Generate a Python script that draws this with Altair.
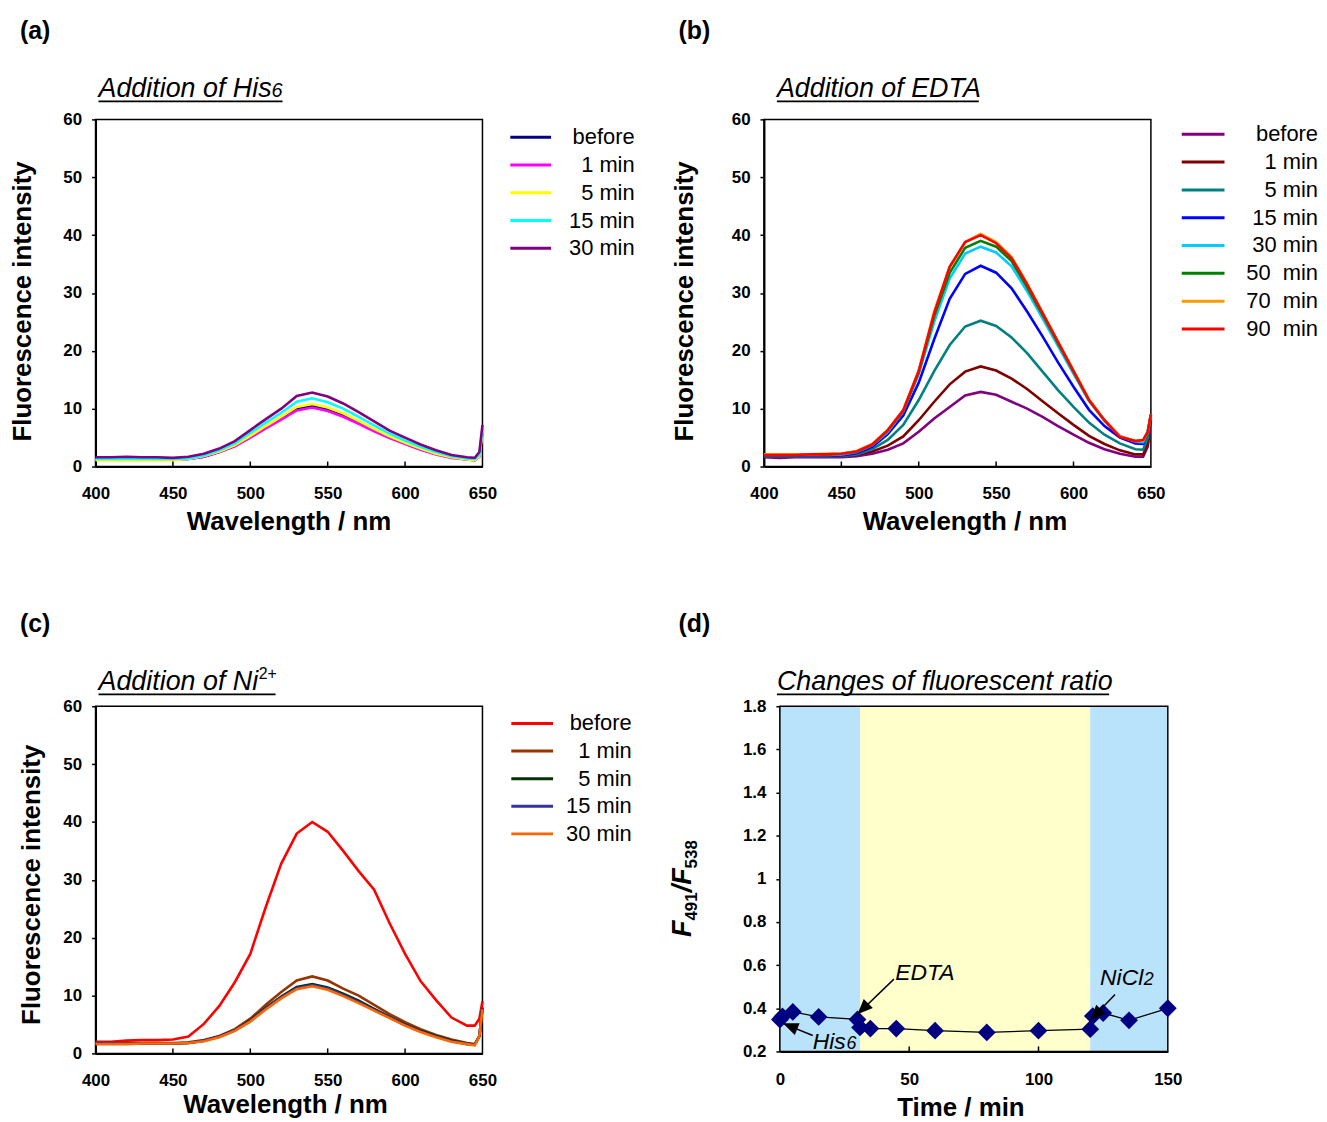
import altair as alt
import pandas as pd

FONT = "Liberation Sans"

# ---------------- data ----------------
wl = [400, 410, 420, 430, 440, 450, 460, 470, 480, 490, 500, 510, 520, 530, 540,
      550, 560, 570, 580, 590, 600, 610, 620, 630, 640, 645, 648, 650]

# (a) Addition of His6
a_names = ["before", "1 min", "5 min", "15 min", "30 min"]
a_colors = ["#000080", "#FF00FF", "#FFFF00", "#00FFFF", "#800080"]
a_before = [1.2, 1.2, 1.3, 1.2, 1.2, 1.2, 1.3, 1.7, 2.5, 3.6, 5.1, 6.8, 8.4, 10.0, 10.5, 9.9, 8.9, 7.7, 6.3, 5.0, 4.0, 3.0, 2.2, 1.6, 1.2, 1.1, 1.8, 6.0]
a_1min = [1.2, 1.2, 1.2, 1.2, 1.2, 1.2, 1.3, 1.7, 2.5, 3.5, 5.0, 6.6, 8.1, 9.7, 10.2, 9.6, 8.6, 7.4, 6.1, 4.9, 3.9, 2.9, 2.1, 1.5, 1.2, 1.1, 1.7, 6.0]
a_5min = [1.1, 1.1, 1.1, 1.1, 1.1, 1.1, 1.3, 1.8, 2.6, 3.7, 5.3, 7.0, 8.6, 10.3, 10.8, 10.2, 9.2, 7.9, 6.5, 5.2, 4.1, 3.1, 2.2, 1.6, 1.2, 1.1, 1.8, 6.0]
a_15min = [1.3, 1.3, 1.3, 1.3, 1.3, 1.3, 1.4, 1.9, 2.8, 4.0, 5.8, 7.6, 9.3, 11.2, 11.8, 11.1, 10.0, 8.6, 7.1, 5.7, 4.5, 3.4, 2.5, 1.8, 1.4, 1.3, 2.0, 6.5]
a_30min = [1.6, 1.6, 1.7, 1.6, 1.6, 1.5, 1.7, 2.2, 3.1, 4.4, 6.3, 8.2, 10.0, 12.2, 12.8, 12.1, 10.9, 9.4, 7.8, 6.2, 5.0, 3.8, 2.8, 2.0, 1.6, 1.5, 2.5, 7.2]

# (b) Addition of EDTA
b_names = ["before", "1 min", "5 min", "15 min", "30 min",
           "50\u00a0 min", "70\u00a0 min", "90\u00a0 min"]
b_colors = ["#800080", "#800000", "#008080", "#0000FF", "#00CCFF", "#008000", "#FF9900", "#FF0000"]
b_before = [1.6, 1.5, 1.6, 1.6, 1.6, 1.6, 1.8, 2.2, 2.9, 4.0, 6.0, 8.3, 10.3, 12.3, 12.9, 12.4, 11.2, 10.0, 8.6, 7.0, 5.5, 4.1, 3.0, 2.2, 1.7, 1.7, 3.5, 8.0]
b_1min = [1.8, 1.8, 1.8, 1.8, 1.8, 1.8, 2.0, 2.6, 3.6, 5.2, 8.0, 11.2, 14.2, 16.4, 17.3, 16.6, 15.2, 13.4, 11.3, 9.2, 7.2, 5.3, 3.9, 2.8, 2.1, 2.1, 4.0, 8.5]
b_5min = [1.8, 1.8, 1.8, 1.8, 1.8, 1.8, 2.1, 3.0, 4.6, 7.2, 11.5, 16.5, 21.0, 24.2, 25.2, 24.3, 22.3, 19.6, 16.4, 13.2, 10.3, 7.6, 5.5, 4.0, 3.0, 2.9, 5.0, 9.0]
b_15min = [1.9, 1.9, 1.9, 1.9, 1.9, 1.9, 2.3, 3.4, 5.6, 8.8, 14.5, 22.0, 29.0, 33.3, 34.7, 33.5, 30.8, 26.8, 22.5, 18.0, 13.8, 9.8, 7.0, 5.0, 4.0, 3.9, 6.0, 9.0]
b_30min = [2.0, 2.0, 2.0, 2.0, 2.0, 2.1, 2.5, 3.7, 6.0, 9.5, 16.0, 25.0, 32.5, 36.8, 38.0, 37.0, 34.6, 30.3, 25.6, 20.8, 16.0, 11.3, 7.9, 5.3, 4.3, 4.2, 6.0, 9.0]
b_50min = [2.0, 2.0, 2.0, 2.1, 2.1, 2.2, 2.6, 3.8, 6.2, 9.6, 16.3, 26.0, 33.5, 37.8, 39.0, 38.0, 35.5, 31.0, 26.2, 21.3, 16.4, 11.5, 8.0, 5.2, 4.4, 4.5, 6.0, 9.0]
b_70min = [2.1, 2.1, 2.1, 2.1, 2.2, 2.2, 2.7, 3.9, 6.3, 9.8, 16.6, 26.8, 34.5, 38.8, 40.2, 38.8, 36.2, 31.6, 26.6, 21.6, 16.6, 11.6, 8.0, 5.2, 4.4, 4.5, 6.0, 9.0]
b_90min = [2.0, 2.0, 2.0, 2.1, 2.1, 2.2, 2.6, 3.8, 6.3, 9.7, 16.5, 26.5, 34.5, 38.8, 40.0, 38.6, 36.0, 31.5, 26.5, 21.5, 16.5, 11.5, 8.0, 5.1, 4.4, 4.6, 6.0, 9.0]

# (c) Addition of Ni2+
c_names = ["before", "1 min", "5 min", "15 min", "30 min"]
c_colors = ["#FF0000", "#993300", "#003300", "#333399", "#FF6600"]
c_before = [2.0, 2.0, 2.2, 2.3, 2.3, 2.4, 2.9, 5.1, 8.2, 12.3, 17.2, 25.3, 32.8, 38.0, 40.0, 38.3, 35.0, 31.5, 28.3, 22.5, 17.2, 12.5, 9.2, 6.2, 4.8, 4.8, 6.0, 9.0]
c_1min = [1.8, 1.8, 1.8, 1.8, 1.8, 1.8, 1.9, 2.3, 3.0, 4.2, 6.0, 8.4, 10.6, 12.6, 13.3, 12.6, 11.2, 10.0, 8.4, 6.8, 5.4, 4.2, 3.2, 2.4, 1.8, 1.6, 3.0, 8.0]
c_5min = [1.7, 1.7, 1.7, 1.7, 1.7, 1.7, 1.8, 2.2, 2.9, 4.0, 5.7, 7.9, 9.8, 11.5, 12.0, 11.4, 10.3, 9.1, 7.7, 6.3, 5.0, 3.9, 3.0, 2.2, 1.7, 1.5, 3.0, 7.8]
c_15min = [1.8, 1.8, 1.7, 1.7, 1.7, 1.7, 1.8, 2.2, 2.9, 4.0, 5.6, 7.8, 9.7, 11.3, 11.8, 11.2, 10.1, 8.9, 7.5, 6.2, 4.9, 3.8, 2.9, 2.1, 1.6, 1.5, 3.0, 7.8]
c_30min = [1.6, 1.6, 1.6, 1.7, 1.7, 1.7, 1.8, 2.1, 2.8, 3.9, 5.5, 7.6, 9.5, 11.1, 11.6, 11.0, 9.9, 8.7, 7.4, 6.1, 4.8, 3.7, 2.8, 2.0, 1.6, 1.4, 3.0, 7.6]

# (d) Changes of fluorescent ratio
d_time = [0, 1, 5, 15, 30, 31, 35, 45, 60, 80, 100, 120, 121, 125, 135, 150]
d_ratio = [0.348, 0.362, 0.383, 0.360, 0.348, 0.311, 0.306, 0.306, 0.296, 0.288,
           0.296, 0.303, 0.364, 0.378, 0.344, 0.400]
band_start = [0, 31, 120]
band_end = [31, 120, 150]
band_colors = ["#B9E3FB", "#FFFFCC", "#B9E3FB"]

# annotation arrows (data units of panel d)
arrow_x0 = [44.1, 129.6, 12.7]
arrow_y0 = [0.535, 0.464, 0.274]
arrow_x1 = [30.0, 120.0, 1.2]
arrow_y1 = [0.372, 0.344, 0.330]
arrow_angle = [225, 224, 292]
ann_x = [44.6, 123.8, 12.7]
ann_y = [0.529, 0.506, 0.209]
ann_text = ["EDTA", "NiCl", "His"]
ann_sub = ["", "2", "6"]

spec_x_ticks = [400, 450, 500, 550, 600, 650]
spec_inner_ticks = [450, 500, 550, 600]
spec_y_ticks = [0, 10, 20, 30, 40, 50, 60]
d_x_ticks = [0, 50, 100, 150]
d_inner_ticks = [50, 100]
d_y_ticks = [0.2, 0.4, 0.6, 0.8, 1.0, 1.2, 1.4, 1.6, 1.8]

W, H = 389, 349
SHIFT = 16            # panel (d) plot starts 16 px right of its column
DW, DH = 390 + SHIFT, 347


# ---------------- helpers ----------------
def txt(s, x, y, size, weight="normal", style="normal", align="left",
        baseline="alphabetic", angle=0):
    kw = dict(fontSize=size, fontWeight=weight, fontStyle=style, align=align,
              baseline=baseline, color="black", font=FONT)
    if angle:
        kw["angle"] = angle
    return alt.Chart(pd.DataFrame({"t": [s]})).mark_text(**kw).encode(
        x=alt.value(x), y=alt.value(y), text="t:N")


def hline(x0, x1, y, w=1.8):
    return alt.Chart(pd.DataFrame({"z": [0]})).mark_rule(
        color="black", strokeWidth=w).encode(
        x=alt.value(x0), x2=alt.value(x1), y=alt.value(y))


def axis_common():
    return dict(labelFont=FONT, labelFontSize=17, labelFontWeight="bold",
                labelColor="black", titleFont=FONT, titleFontSize=26,
                titleFontWeight="bold", titleColor="black", domainColor="black",
                domainWidth=2, grid=False, titleBaseline="alphabetic",
                titleAlign="center", labelFlush=False)


def spectrum_panel(names, colors, series, ytx, yty, xtx, xty,
                   lx0, lx1, ltx, ly0, ly1, extra):
    rows = []
    for n, c, vals in zip(names, colors, series):
        for w, v in zip(wl, vals):
            rows.append({"wl": w, "I": v, "s": n, "col": c})
    df = pd.DataFrame(rows)
    color = alt.Color("col:N", scale=None)
    xscale = alt.Scale(domain=[400, 650], nice=False, zero=False)
    x = alt.X("wl:Q", scale=xscale,
              axis=alt.Axis(values=spec_x_ticks, title="Wavelength / nm",
                            tickSize=0, labelPadding=19, titleX=xtx, titleY=xty,
                            **axis_common()))
    y = alt.Y("I:Q", scale=alt.Scale(domain=[0, 60], nice=False),
              axis=alt.Axis(values=spec_y_ticks, title="Fluorescence intensity",
                            tickSize=4, tickWidth=1.5, tickColor="black",
                            labelPadding=10, titleAngle=270, titleX=ytx, titleY=yty,
                            **axis_common()))
    lines = alt.Chart(df).mark_line(strokeWidth=2.6).encode(
        x=x, y=y, color=color, detail="s:N", order="wl:Q")
    ticks = alt.Chart(pd.DataFrame({"wl": spec_inner_ticks})).mark_rule(
        color="black", strokeWidth=1.5).encode(
        x=alt.X("wl:Q", scale=xscale), y=alt.value(H), y2=alt.value(H - 5))
    leg = pd.DataFrame({"s": names, "col": colors, "k": list(range(len(names)))})
    ly = alt.Y("k:Q", scale=alt.Scale(domain=[0, len(names) - 1], range=[ly0, ly1],
                                      nice=False, zero=False), axis=None)
    leg_r = alt.Chart(leg).mark_rule(strokeWidth=3).encode(
        x=alt.value(lx0), x2=alt.value(lx1), y=ly, color=color)
    leg_t = alt.Chart(leg).mark_text(align="right", baseline="middle", fontSize=22,
                                     color="black", font=FONT).encode(
        x=alt.value(ltx), y=ly, text="s:N")
    return alt.layer(lines, ticks, leg_r, leg_t, *extra).resolve_scale(
        y="independent").properties(width=W, height=H)


anchor = alt.Chart(pd.DataFrame({"z": [0]})).mark_rect(opacity=0).encode(
    x=alt.value(-86), x2=alt.value(-85), y=alt.value(-108), y2=alt.value(-107))

pa = spectrum_panel(
    a_names, a_colors, [a_before, a_1min, a_5min, a_15min, a_30min],
    -65.5, 182.5, 194, 63, 417, 458, 542, 18, 129.6,
    [txt("(a)", -76, -81, 25, "bold"),
     txt("Addition of His", 3, -22, 27, style="italic"),
     txt("6", 177, -22, 20, style="italic"),
     hline(3, 188, -18), anchor])

pb = spectrum_panel(
    b_names, b_colors, [b_before, b_1min, b_5min, b_15min, b_30min, b_50min, b_70min, b_90min],
    -71.5, 182.5, 201.5, 63, 420, 463, 557, 15, 210.7,
    [txt("(b)", -86, -81, 25, "bold"),
     txt("Addition of EDTA", 13, -22, 27, style="italic"),
     hline(13, 216, -18)])

pc = spectrum_panel(
    c_names, c_colors, [c_before, c_1min, c_5min, c_15min, c_30min],
    -56.5, 179, 190.5, 59, 418, 460, 539, 17.3, 128.3,
    [txt("(c)", -76, -75, 25, "bold"),
     txt("Addition of Ni", 3, -16, 27, style="italic"),
     txt("2+", 164, -27, 16),
     hline(3, 181, -12)])

# ---------------- panel (d) ----------------
dxs = alt.Scale(domain=[0, 150], range=[SHIFT, DW], nice=False, zero=False)
dys = alt.Scale(domain=[0.2, 1.8], nice=False, zero=False)
dx_axis = alt.Axis(values=d_x_ticks, title="Time / min", tickSize=0, labelPadding=20,
                   titleX=181.5 + SHIFT, titleY=64, **axis_common())
dy_axis = alt.Axis(values=d_y_ticks, title=None, format="~g", tickSize=4, tickWidth=1.5,
                   tickColor="black", labelPadding=10, offset=-SHIFT, **axis_common())

bands = alt.Chart(pd.DataFrame({"t": band_start, "t2": band_end, "c": band_colors})).mark_rect().encode(
    x=alt.X("t:Q", scale=dxs, axis=dx_axis), x2="t2:Q",
    y=alt.value(0), y2=alt.value(DH), color=alt.Color("c:N", scale=None))
frame = alt.Chart(pd.DataFrame({"t": [d_x_ticks[0]], "t2": [d_x_ticks[-1]]})).mark_rect(
    filled=False, stroke="black", strokeWidth=1.5).encode(
    x=alt.X("t:Q", scale=dxs), x2="t2:Q", y=alt.value(0), y2=alt.value(DH))
ddf = pd.DataFrame({"t": d_time, "r": d_ratio})
dline = alt.Chart(ddf).mark_line(color="black", strokeWidth=1.3).encode(
    x=alt.X("t:Q", scale=dxs), y=alt.Y("r:Q", scale=dys, axis=dy_axis), order="t:Q")
dpts = alt.Chart(ddf).mark_point(shape="diamond", filled=True, size=320, color="#000080",
                                 opacity=1).encode(
    x=alt.X("t:Q", scale=dxs), y=alt.Y("r:Q", scale=dys))
dticks = alt.Chart(pd.DataFrame({"t": d_inner_ticks})).mark_rule(
    color="black", strokeWidth=1.5).encode(
    x=alt.X("t:Q", scale=dxs), y=alt.value(DH), y2=alt.value(DH - 5))
arr = pd.DataFrame({"t": arrow_x0, "r": arrow_y0, "t2": arrow_x1, "r2": arrow_y1, "a": arrow_angle})
arr_line = alt.Chart(arr).mark_rule(color="black", strokeWidth=1.5).encode(
    x=alt.X("t:Q", scale=dxs), y=alt.Y("r:Q", scale=dys), x2="t2:Q", y2="r2:Q")
arr_head = alt.Chart(arr).mark_point(shape="M0,0L0.42,1L-0.42,1Z", filled=True, size=950,
                                     color="black", opacity=1).encode(
    x=alt.X("t2:Q", scale=dxs), y=alt.Y("r2:Q", scale=dys),
    angle=alt.Angle("a:Q", scale=None))

ann = pd.DataFrame({"t": ann_x, "r": ann_y, "s": ann_text})
ann_t = alt.Chart(ann).mark_text(align="left", baseline="alphabetic", fontSize=23,
                                 fontStyle="italic", color="black", font=FONT).encode(
    x=alt.X("t:Q", scale=dxs), y=alt.Y("r:Q", scale=dys), text="s:N")
sub1 = alt.Chart(pd.DataFrame({"t": [ann_x[1]], "r": [ann_y[1]], "s": [ann_sub[1]]})).mark_text(
    align="left", baseline="alphabetic", fontSize=18, fontStyle="italic", color="black",
    font=FONT, dx=44).encode(x=alt.X("t:Q", scale=dxs), y=alt.Y("r:Q", scale=dys), text="s:N")
sub2 = alt.Chart(pd.DataFrame({"t": [ann_x[2]], "r": [ann_y[2]], "s": [ann_sub[2]]})).mark_text(
    align="left", baseline="alphabetic", fontSize=18, fontStyle="italic", color="black",
    font=FONT, dx=34).encode(x=alt.X("t:Q", scale=dxs), y=alt.Y("r:Q", scale=dys), text="s:N")

S = SHIFT
ytitle_d = [
    txt("F", -89 + S, 232, 27, "bold", "italic", angle=270),
    txt("491", -83 + S, 215.5, 17, "bold", angle=270),
    txt("/", -89 + S, 187, 27, "bold", "italic", angle=270),
    txt("F", -89 + S, 179.5, 27, "bold", "italic", angle=270),
    txt("538", -83 + S, 163, 17, "bold", angle=270),
]

pd_ = alt.layer(
    bands, frame, dticks, dline, dpts, arr_line, arr_head, ann_t, sub1, sub2,
    txt("(d)", -102 + S, -75, 25, "bold"),
    txt("Changes of fluorescent ratio", -3 + S, -16, 27, style="italic"),
    hline(-3 + S, 331 + S, -12),
    *ytitle_d,
).properties(width=DW, height=DH, view=alt.ViewBackground(stroke="transparent", strokeWidth=0))


chart = alt.concat(
    pa, pb, pc, pd_,
    columns=2, bounds="flush", spacing={"row": 241, "column": 283},
).properties(padding=0).configure(
    font=FONT, background="white").configure_view(stroke="black", strokeWidth=1.5)

chart.save("out.html", embed_options={"renderer": "svg", "actions": False})
